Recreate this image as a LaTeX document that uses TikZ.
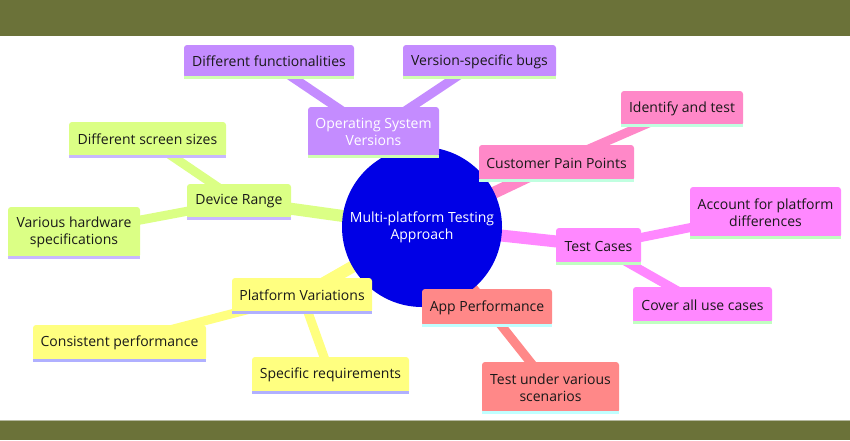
\documentclass[tikz,border=0pt]{standalone}
\usepackage{fontspec}
\setmainfont{Open Sans}
\pgfdeclarelayer{bg}
\pgfdeclarelayer{edges}
\pgfsetlayers{bg,edges,main}
\definecolor{olive}{RGB}{107,114,57}
\definecolor{oliveline}{RGB}{180,184,160}
\definecolor{purp}{RGB}{196,140,255}
\definecolor{lime}{RGB}{219,255,133}
\definecolor{yell}{RGB}{255,255,128}
\definecolor{pink}{RGB}{255,136,200}
\definecolor{magn}{RGB}{255,136,255}
\definecolor{salm}{RGB}{255,136,136}
\definecolor{rootblue}{RGB}{0,0,230}
\definecolor{txt}{RGB}{25,25,25}
\definecolor{stpurp}{RGB}{208,255,176}
\definecolor{stlime}{RGB}{200,184,255}
\definecolor{styell}{RGB}{176,176,255}
\definecolor{stpink}{RGB}{192,255,224}
\definecolor{stmagn}{RGB}{192,255,192}
\definecolor{stsalm}{RGB}{192,255,255}
\newcommand{\boxstrip}[2]{\fill[#2] ([yshift=-1pt]#1.south west) rectangle ([yshift=2pt]#1.south east);}
\begin{document}
\begin{tikzpicture}[x=1pt,y=-1pt,
  box/.style={rectangle, rounded corners=3pt, inner sep=0pt, align=center,
    font=\fontsize{14}{17}\selectfont, text=txt},
  edgeA/.style={line width=12pt},
  edgeB/.style={line width=9pt}]
\useasboundingbox (0,0) rectangle (850,440);
\begin{pgfonlayer}{bg}
\fill[white] (0,0) rectangle (850,440);
\fill[olive] (0,0) rectangle (850,36);
\fill[olive] (0,420) rectangle (850,440);
\fill[oliveline] (0,419.5) rectangle (850,421);
\end{pgfonlayer}

\node[circle, fill=rootblue, minimum size=160pt, inner sep=0pt, align=center,
  text=white, font=\fontsize{14}{17}\selectfont] (root) at (422,227)
  {Multi-platform Testing\\Approach};

% Operating System Versions
\node[box, fill=purp, text=white, minimum width=131pt, minimum height=50pt] (os) at (373.5,132) {Operating System\\Versions};
\node[box, fill=purp, minimum width=170pt, minimum height=33pt] (df) at (269,61.5) {Different functionalities};
\node[box, fill=purp, minimum width=153pt, minimum height=33pt] (vsb) at (479.5,61.5) {Version-specific bugs};

% Device Range
\node[box, fill=lime, minimum width=104pt, minimum height=35pt] (dr) at (239,201.5) {Device Range};
\node[box, fill=lime, minimum width=157pt, minimum height=35pt] (dss) at (147.5,139.5) {Different screen sizes};
\node[box, fill=lime, minimum width=132pt, minimum height=51pt] (vhs) at (74,232.5) {Various hardware\\specifications};

% Platform Variations
\node[box, fill=yell, minimum width=140pt, minimum height=35pt] (pv) at (302,295.5) {Platform Variations};
\node[box, fill=yell, minimum width=173pt, minimum height=36pt] (cp) at (119.5,343) {Consistent performance};
\node[box, fill=yell, minimum width=157pt, minimum height=36pt] (sr) at (330.5,375) {Specific requirements};

% Customer Pain Points
\node[box, fill=pink, minimum width=155pt, minimum height=36pt] (cpp) at (556.5,163) {Customer Pain Points};
\node[box, fill=pink, minimum width=122pt, minimum height=35pt] (it) at (682,108.5) {Identify and test};

% Test Cases
\node[box, fill=magn, minimum width=85pt, minimum height=36pt] (tc) at (598.5,246) {Test Cases};
\node[box, fill=magn, minimum width=151pt, minimum height=51pt] (afp) at (765.5,212.5) {Account for platform\\differences};
\node[box, fill=magn, minimum width=139pt, minimum height=36pt] (cau) at (702.5,305) {Cover all use cases};

% App Performance
\node[box, fill=salm, minimum width=130pt, minimum height=37pt] (ap) at (487,307.5) {App Performance};
\node[box, fill=salm, minimum width=137pt, minimum height=51pt] (tuvs) at (550.5,387.5) {Test under various\\scenarios};

% bottom strips
\boxstrip{os}{stpurp}\boxstrip{df}{stpurp}\boxstrip{vsb}{stpurp}
\boxstrip{dr}{stlime}\boxstrip{dss}{stlime}\boxstrip{vhs}{stlime}
\boxstrip{pv}{styell}\boxstrip{cp}{styell}\boxstrip{sr}{styell}
\boxstrip{cpp}{stpink}\boxstrip{it}{stpink}
\boxstrip{tc}{stmagn}\boxstrip{afp}{stmagn}\boxstrip{cau}{stmagn}
\boxstrip{ap}{stsalm}\boxstrip{tuvs}{stsalm}

\begin{pgfonlayer}{edges}
\draw[edgeA, purp] (root.center) -- (os.center);
\draw[edgeB, purp] (os.center) -- (df.center);
\draw[edgeB, purp] (os.center) -- (vsb.center);
\draw[edgeA, lime] (root.center) -- (dr.center);
\draw[edgeB, lime] (dr.center) -- (dss.center);
\draw[edgeB, lime] (dr.center) -- (vhs.center);
\draw[edgeA, yell] (root.center) -- (pv.center);
\draw[edgeB, yell] (pv.center) -- (cp.center);
\draw[edgeB, yell] (pv.center) -- (sr.center);
\draw[edgeA, pink] (root.center) -- (cpp.center);
\draw[edgeB, pink] (cpp.center) -- (it.center);
\draw[edgeA, magn] (root.center) -- (tc.center);
\draw[edgeB, magn] (tc.center) -- (afp.center);
\draw[edgeB, magn] (tc.center) -- (cau.center);
\draw[edgeA, salm] (root.center) -- (ap.center);
\draw[edgeB, salm] (ap.center) -- (tuvs.center);
\end{pgfonlayer}
\end{tikzpicture}
\end{document}
